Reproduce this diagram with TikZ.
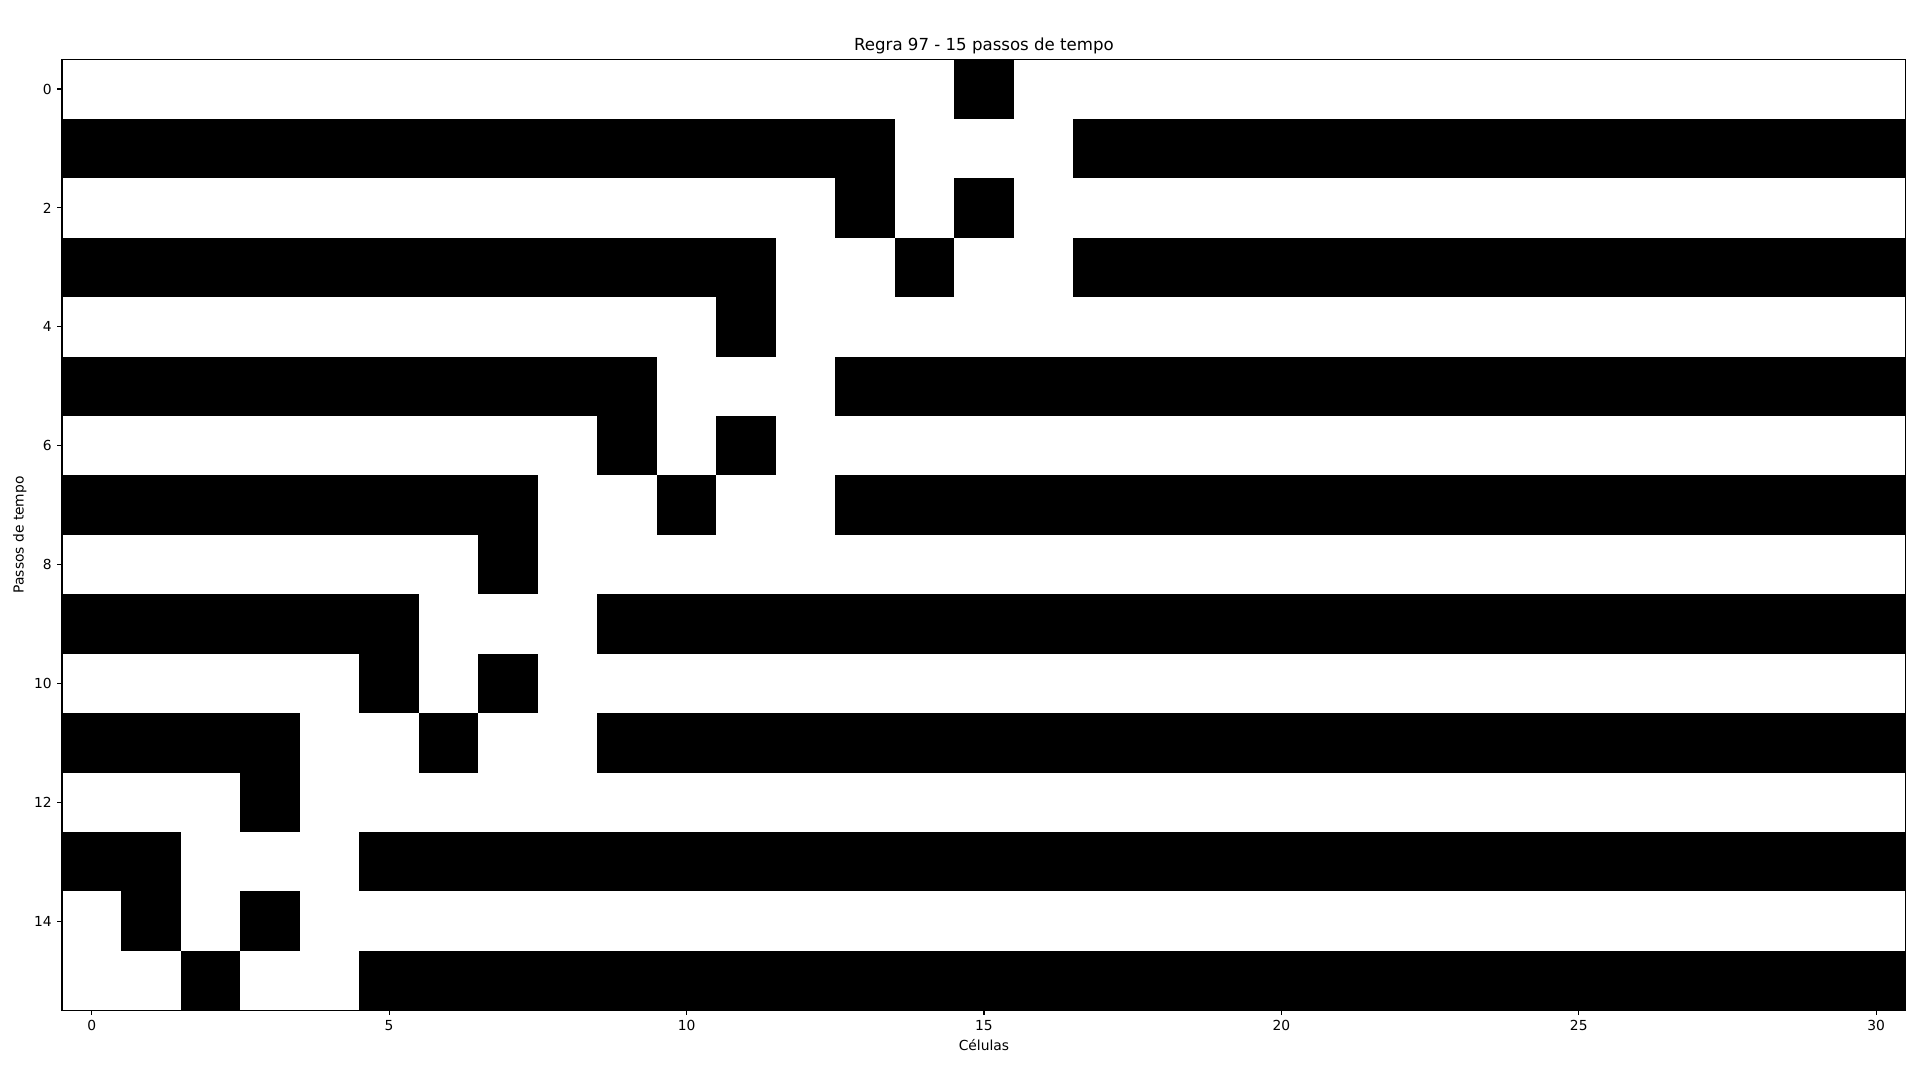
\documentclass[tikz,border=0pt]{standalone}
\usepackage{fontspec}
\setmainfont{DejaVu Sans}

\begin{document}
\begin{tikzpicture}[
  x=0.5948in, y=-0.5944in,
  cell/.style={fill=black},
  frame/.style={line width=0.8pt},
  axtick/.style={line width=0.8pt},
  ticklabel/.style={inner sep=0pt, font=\fontsize{10}{12}\selectfont}
]
\def\ncol{30}
\def\nrow{15}

% page margins as in the figure
\useasboundingbox (-1.5424,-1.4977) rectangle (30.737,16.6695);

% black runs: row/first/last cell
\foreach \r/\a/\b in {0/15/15,
    1/0/13, 1/17/30,
    2/13/13, 2/15/15,
    3/0/11, 3/14/14, 3/17/30,
    4/11/11,
    5/0/9, 5/13/30,
    6/9/9, 6/11/11,
    7/0/7, 7/10/10, 7/13/30,
    8/7/7,
    9/0/5, 9/9/30,
    10/5/5, 10/7/7,
    11/0/3, 11/6/6, 11/9/30,
    12/3/3,
    13/0/1, 13/5/30,
    14/1/1, 14/3/3,
    15/2/2, 15/5/30} {
  \fill[cell] (\a-0.5,\r-0.5) rectangle (\b+0.5,\r+0.5);
}

% axes box
\draw[frame] (-0.5,-0.5) rectangle (\ncol+0.5,\nrow+0.5);

% x ticks
\foreach \i in {0,5,...,30} {
  \draw[axtick] (\i,15.5) -- (\i,15.5818);
  \node[ticklabel,anchor=north] (xt\i) at (\i,15.663) {\i};
}

% y ticks
\foreach \j in {0,2,...,14} {
  \draw[axtick] (-0.5,\j) -- (-0.5817,\j);
  \node[ticklabel,anchor=east] (yt\j) at (-0.668,\j) {\j};
}

% labels
\node[inner sep=0pt,anchor=base,font=\fontsize{12}{14}\selectfont] (title) at (15,-0.6565) {Regra 97 - 15 passos de tempo};
\node[ticklabel,anchor=base] (xlabel) at (15,16.168) {Células};
\node[ticklabel,rotate=90] (ylabel) at (-1.211,7.5) {Passos de tempo};

\end{tikzpicture}
\end{document}
